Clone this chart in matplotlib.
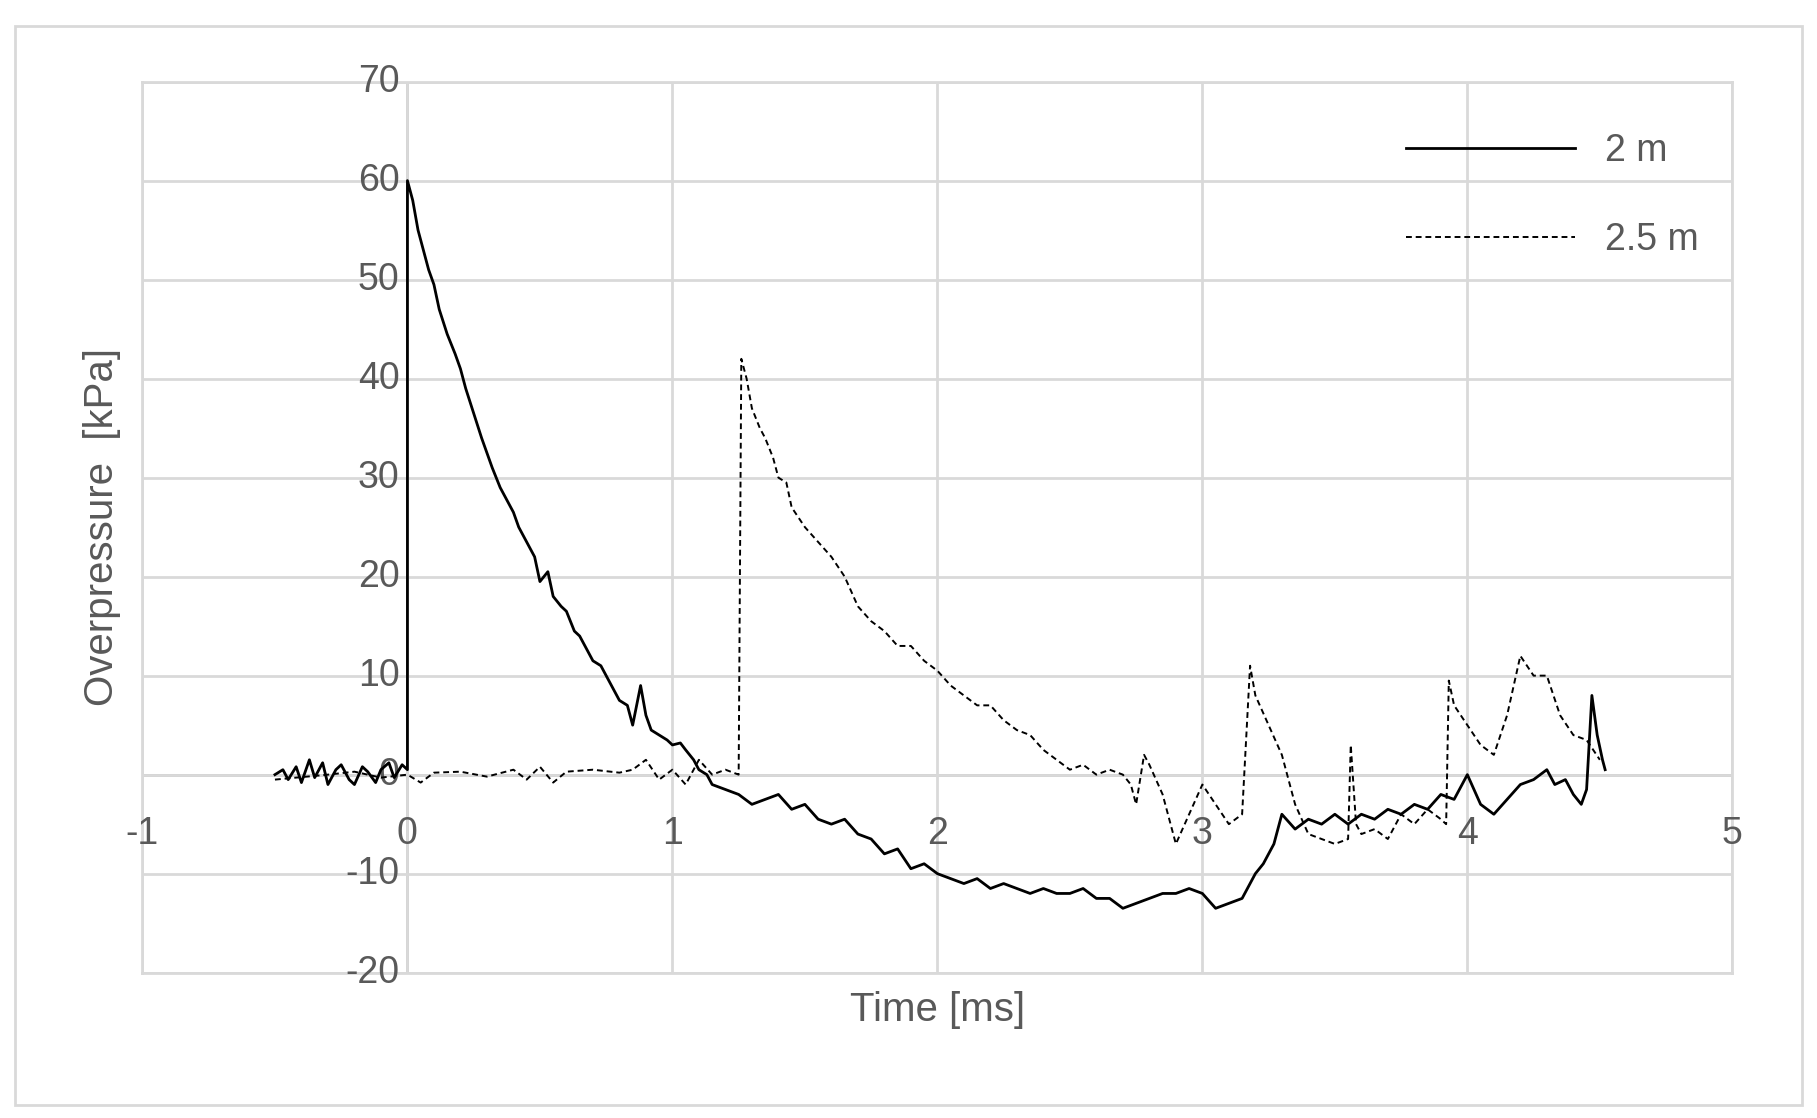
import matplotlib
matplotlib.use("Agg")
import matplotlib.pyplot as plt
from matplotlib.patches import Rectangle

t_2m = [-0.5,-0.47,-0.45,-0.42,-0.4,-0.37,-0.35,-0.32,-0.3,-0.27,-0.25,-0.22,-0.2,-0.17,-0.15,-0.12,-0.1,-0.07,-0.05,-0.02,0.0,0.0,0.02,0.04,0.06,0.08,0.1,0.12,0.15,0.18,0.2,0.22,0.25,0.28,0.3,0.32,0.35,0.38,0.4,0.42,0.45,0.48,0.5,0.53,0.55,0.58,0.6,0.63,0.65,0.68,0.7,0.73,0.75,0.78,0.8,0.83,0.85,0.88,0.9,0.92,0.95,0.98,1.0,1.03,1.05,1.08,1.1,1.13,1.15,1.2,1.25,1.3,1.35,1.4,1.45,1.5,1.55,1.6,1.65,1.7,1.75,1.8,1.85,1.9,1.95,2.0,2.05,2.1,2.15,2.2,2.25,2.3,2.35,2.4,2.45,2.5,2.55,2.6,2.65,2.7,2.75,2.8,2.85,2.9,2.95,3.0,3.05,3.1,3.15,3.2,3.23,3.27,3.3,3.35,3.4,3.45,3.5,3.55,3.6,3.65,3.7,3.75,3.8,3.85,3.9,3.95,4.0,4.05,4.1,4.15,4.2,4.25,4.3,4.33,4.37,4.4,4.43,4.45,4.47,4.49,4.51,4.52]
p_2m = [0,0.5,-0.5,0.8,-0.8,1.5,-0.3,1.2,-1,0.5,1,-0.5,-1,0.8,0.3,-0.8,0.5,1.2,-0.3,1,0.5,60,58,55,53,51,49.5,47,44.5,42.5,41,39,36.5,34,32.5,31,29,27.5,26.5,25,23.5,22,19.5,20.5,18,17,16.5,14.5,14,12.5,11.5,11,10,8.5,7.5,7,5,9,6,4.5,4,3.5,3,3.2,2.5,1.5,0.5,0,-1,-1.5,-2,-3,-2.5,-2,-3.5,-3,-4.5,-5,-4.5,-6,-6.5,-8,-7.5,-9.5,-9,-10,-10.5,-11,-10.5,-11.5,-11,-11.5,-12,-11.5,-12,-12,-11.5,-12.5,-12.5,-13.5,-13,-12.5,-12,-12,-11.5,-12,-13.5,-13,-12.5,-10,-9,-7,-4,-5.5,-4.5,-5,-4,-5,-4,-4.5,-3.5,-4,-3,-3.5,-2,-2.5,0,-3,-4,-2.5,-1,-0.5,0.5,-1,-0.5,-2,-3,-1.5,8,4,1.5,0.5]

t_25m = [-0.5,-0.3,-0.2,-0.1,0.0,0.05,0.1,0.2,0.3,0.4,0.45,0.5,0.55,0.6,0.7,0.8,0.85,0.9,0.95,1.0,1.05,1.1,1.15,1.2,1.25,1.26,1.28,1.3,1.33,1.35,1.38,1.4,1.43,1.45,1.5,1.55,1.6,1.65,1.7,1.75,1.8,1.85,1.9,1.95,2.0,2.05,2.1,2.15,2.2,2.25,2.3,2.35,2.4,2.45,2.5,2.55,2.6,2.65,2.7,2.73,2.75,2.78,2.8,2.85,2.9,2.95,3.0,3.05,3.1,3.15,3.18,3.2,3.25,3.3,3.35,3.4,3.45,3.5,3.55,3.56,3.58,3.6,3.65,3.7,3.75,3.8,3.85,3.9,3.92,3.93,3.95,4.0,4.05,4.1,4.15,4.2,4.25,4.3,4.35,4.4,4.45,4.5]
p_25m = [-0.5,0,0.3,-0.3,0,-0.8,0.2,0.3,-0.2,0.5,-0.5,0.8,-0.8,0.3,0.5,0.2,0.5,1.5,-0.5,0.5,-1,1.5,0,0.5,0,42,40,37,35,34,32,30,29.5,27,25,23.5,22,20,17,15.5,14.5,13,13,11.5,10.5,9,8,7,7,5.5,4.5,4,2.5,1.5,0.5,1,0,0.5,0,-1,-3,2,1,-2,-7,-4,-1,-3,-5,-4,11,8,5,2,-3,-6,-6.5,-7,-6.5,3,-5,-6,-5.5,-6.5,-4,-5,-3.5,-4.5,-5,9.5,7,5,3,2,6,12,10,10,6,4,3.5,1.5]

xticks = [-1,0,1,2,3,4,5]
yticks = [-20,-10,0,10,20,30,40,50,60,70]

plt.rcParams['font.family'] = ['Liberation Sans', 'DejaVu Sans']
fig = plt.figure(figsize=(18.17, 11.18), dpi=100)
fig.patches.append(Rectangle((0.008, 0.012), 0.984, 0.965, transform=fig.transFigure,
                             fill=False, edgecolor='#d9d9d9', linewidth=2))
ax = fig.add_axes([0.0784, 0.130, 0.875, 0.797])
ax.set_xlim(-1, 5)
ax.set_ylim(-20, 70)
ax.set_xticks(xticks)
ax.set_yticks(yticks)
ax.grid(True, color='#d9d9d9', linewidth=2)
for s in ['top', 'right', 'bottom', 'left']:
    ax.spines[s].set_color('#d9d9d9')
    ax.spines[s].set_linewidth(2)
ax.axhline(0, color='#bfbfbf', linewidth=2, zorder=1)
ax.axvline(0, color='#bfbfbf', linewidth=2, zorder=1)
ax.tick_params(length=0)
ax.set_xticklabels([])
ax.set_yticklabels([])
for x in xticks:
    ax.text(x, -6, str(x), ha='center', va='center', fontsize=27, color='#595959')
for y in yticks:
    ax.text(-0.03, y, str(y), ha='right', va='center', fontsize=27, color='#595959')

ax.plot(t_2m, p_2m, color='black', linewidth=2, label='2 m', zorder=3)
ax.plot(t_25m, p_25m, color='black', linewidth=1.4, linestyle=(0, (3, 2)), label='2.5 m', zorder=3)

ax.set_xlabel('Time [ms]', fontsize=29, color='#595959', labelpad=10)
ax.set_ylabel('Overpressure  [kPa]', fontsize=29, color='#595959', labelpad=12)
leg = ax.legend(loc='upper right', fontsize=27, frameon=False, handlelength=4.5,
                labelspacing=1.4, bbox_to_anchor=(1.0, 0.98))
for txt in leg.get_texts():
    txt.set_color('#595959')
fig.savefig('out.png', dpi=100)
